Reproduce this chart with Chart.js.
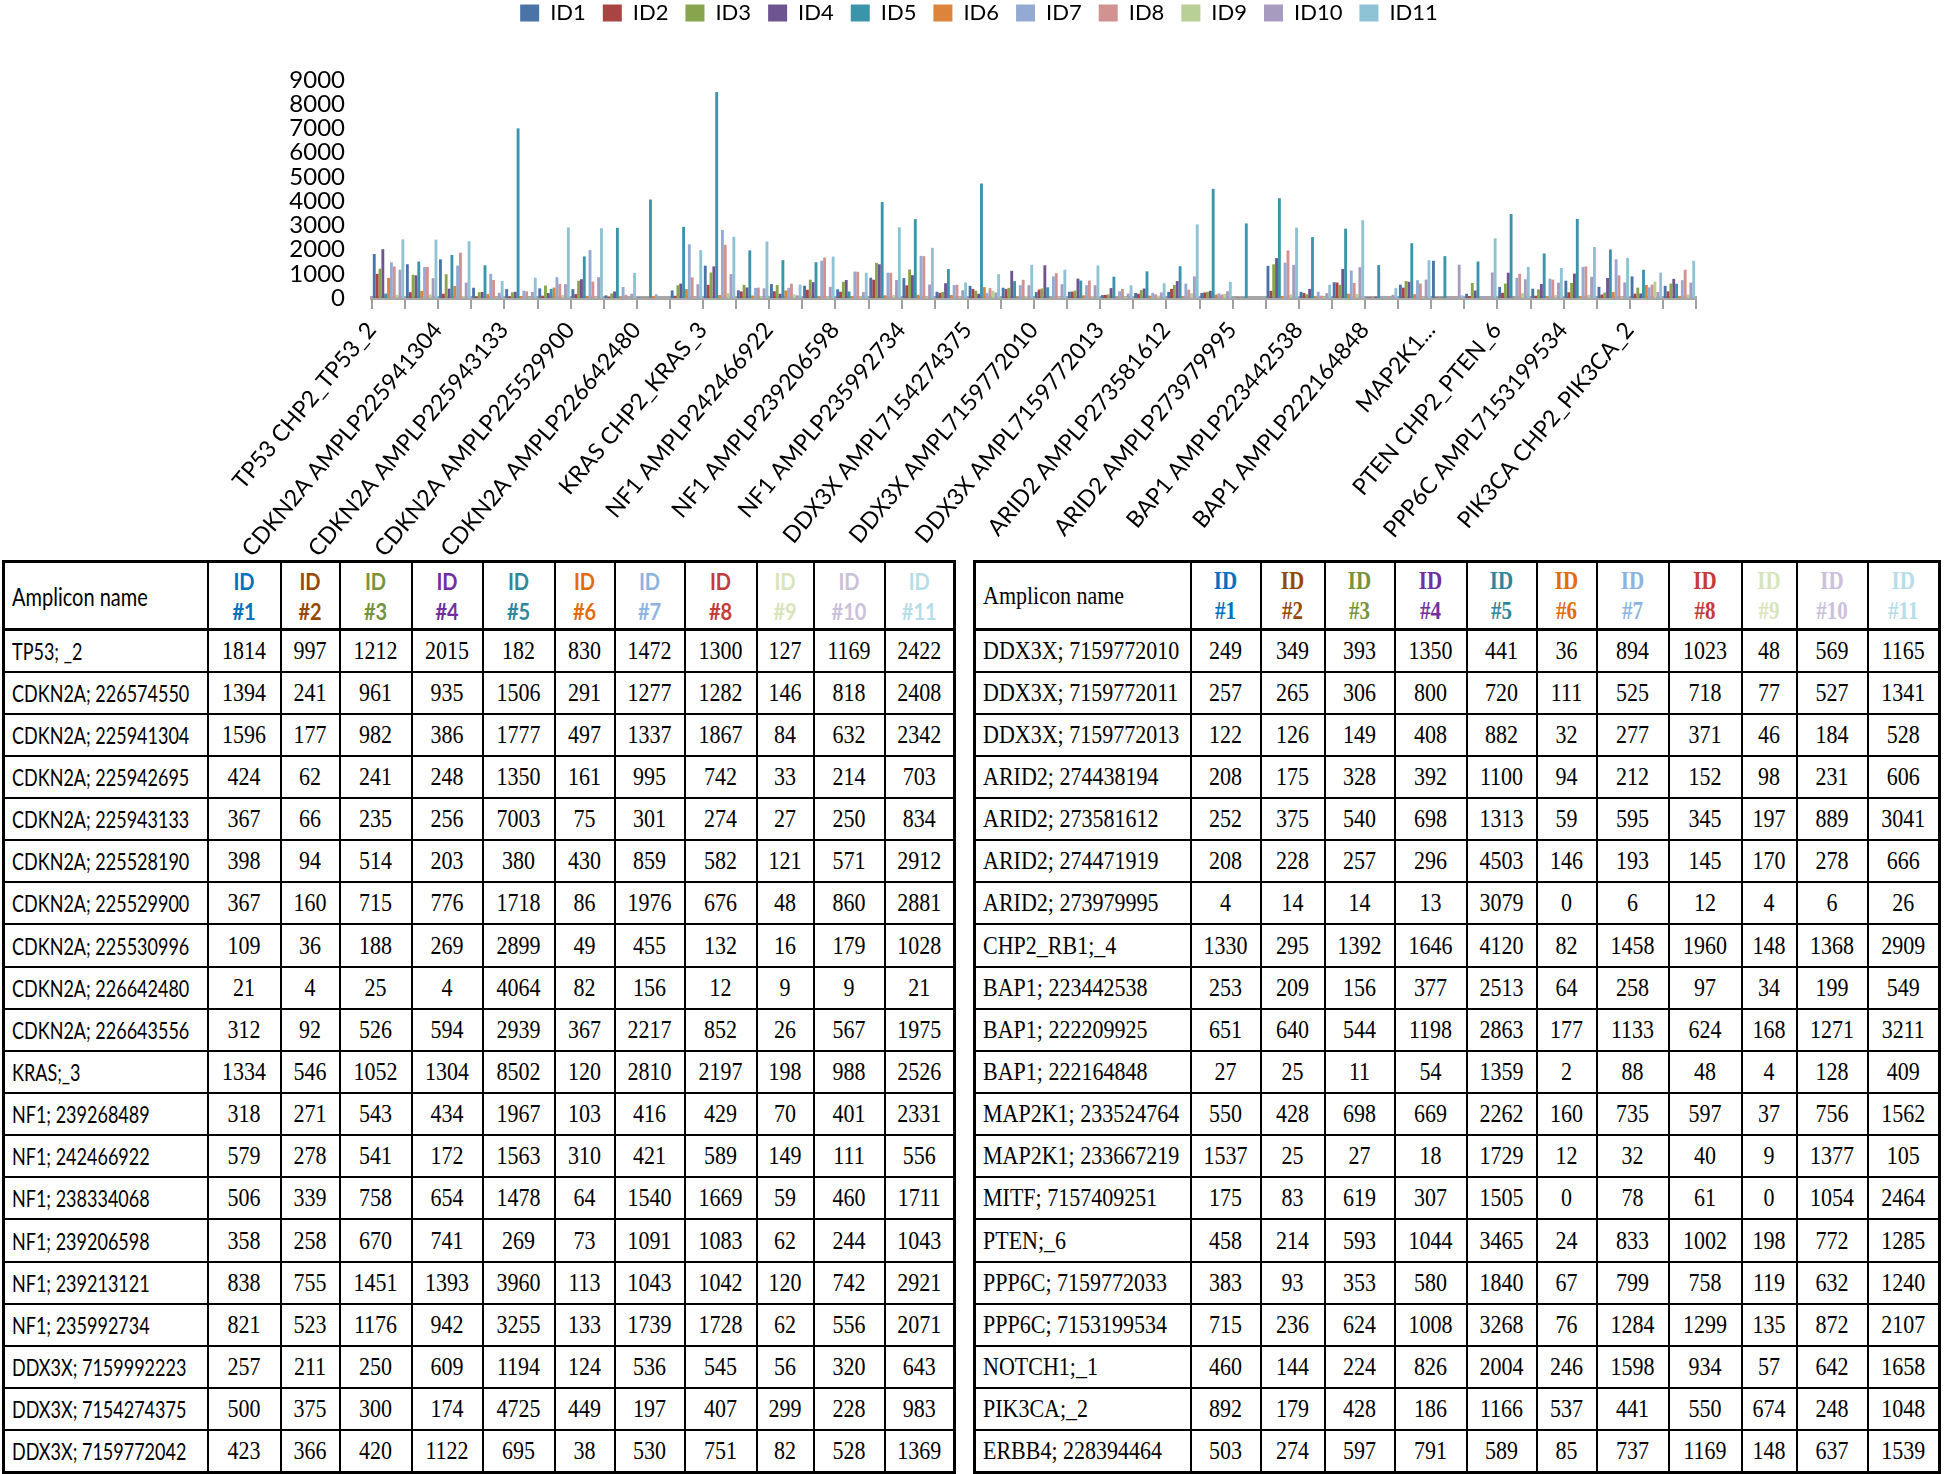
<!DOCTYPE html>
<html>
<head>
<meta charset="utf-8">
<script src="https://cdn.jsdelivr.net/npm/chart.js@4.4.1/dist/chart.umd.min.js"></script>
<style>
  html, body { margin: 0; padding: 0; background: #fff; }
  body { width: 1946px; height: 1474px; position: relative; overflow: hidden; }
  #chartBox { position: absolute; left: 0; top: 0; width: 1946px; height: 556px; }
  table.amp { position: absolute; top: 560px; border-collapse: collapse; table-layout: fixed; border: 3px solid #000; }
  table.amp td { border: 2px solid #000; padding: 0; text-align: center; vertical-align: middle; color: #000; white-space: nowrap; overflow: hidden; }
  table.amp tr.head { height: 68px; }
  table.amp tr.head td { border-bottom: 3px solid #000; }
  table.amp tr.row { height: 42.15px; }
  table.amp td.name { text-align: left; padding-left: 7px; }
  .t { display: inline-block; transform: scaleY(1.15); }
  td.name .t { transform-origin: left center; }
  #left td { font: 22px "Liberation Serif", serif; }
  #left td.name { font: 18px Lato, sans-serif; }
  #left td.name .t { transform: scaleY(1.25); }
  #left td.hid { font: bold 20px/26px Lato, sans-serif; }
  #right td { font: 22px "Liberation Serif", serif; }
  #right td.hid { font: bold 21px/26px "Liberation Serif", serif; }
</style>
</head>
<body>
<div id="chartBox"><canvas id="chart" width="1946" height="556"></canvas></div>
<table class="amp" id="left" style="left:2px"></table>
<table class="amp" id="right" style="left:973px"></table>
<script>
// series names + colours
const seriesNames = ["ID1", "ID2", "ID3", "ID4", "ID5", "ID6", "ID7", "ID8", "ID9", "ID10", "ID11"];
const barColors = ["#4a73a8", "#a94442", "#88a54e", "#6e5490", "#3a95ab", "#dd843b",
                   "#94aad2", "#d29291", "#b8cf95", "#a79bbf", "#8ec2d5"];
const headColors = ["#0070c0", "#974806", "#77933c", "#7030a0", "#31859c", "#e36c09",
                    "#8db3e2", "#c43b3b", "#d7e4bc", "#ccc0da", "#b6dde8"];

// y axis tick labels
const yTicks = [0, 1000, 2000, 3000, 4000, 5000, 6000, 7000, 8000, 9000];

// x axis categories (only every other one is printed)
const chartLabels = [
  "TP53 CHP2_TP53_2", "CDKN2A AMPLP226574550", "CDKN2A AMPLP225941304", "CDKN2A AMPLP225942695",
  "CDKN2A AMPLP225943133", "CDKN2A AMPLP225528190", "CDKN2A AMPLP225529900", "CDKN2A AMPLP225530996",
  "CDKN2A AMPLP226642480", "CDKN2A AMPLP226643556", "KRAS CHP2_KRAS_3", "NF1 AMPLP239268489",
  "NF1 AMPLP242466922", "NF1 AMPLP238334068", "NF1 AMPLP239206598", "NF1 AMPLP239213121",
  "NF1 AMPLP235992734", "DDX3X AMPL7159992223", "DDX3X AMPL7154274375", "DDX3X AMPL7159772042",
  "DDX3X AMPL7159772010", "DDX3X AMPL7159772011", "DDX3X AMPL7159772013", "ARID2 AMPLP274438194",
  "ARID2 AMPLP273581612", "ARID2 AMPLP274471919", "ARID2 AMPLP273979995", "RB1 CHP2_RB1_4",
  "BAP1 AMPLP223442538", "BAP1 AMPLP222209925", "BAP1 AMPLP222164848", "MAP2K1 AMPLP233524764",
  "MAP2K1...", "MITF AMPL7157409251", "PTEN CHP2_PTEN_6", "PPP6C AMPL7159772033",
  "PPP6C AMPL7153199534", "NOTCH1 CHP2_NOTCH1_1", "PIK3CA CHP2_PIK3CA_2", "ERBB4 AMPLP228394464"
];

// table row names (same order as chart categories)
const ampliconNames = [
  "TP53; _2", "CDKN2A; 226574550", "CDKN2A; 225941304", "CDKN2A; 225942695", "CDKN2A; 225943133",
  "CDKN2A; 225528190", "CDKN2A; 225529900", "CDKN2A; 225530996", "CDKN2A; 226642480", "CDKN2A; 226643556",
  "KRAS;_3", "NF1; 239268489", "NF1; 242466922", "NF1; 238334068", "NF1; 239206598",
  "NF1; 239213121", "NF1; 235992734", "DDX3X; 7159992223", "DDX3X; 7154274375", "DDX3X; 7159772042",
  "DDX3X; 7159772010", "DDX3X; 7159772011", "DDX3X; 7159772013", "ARID2; 274438194", "ARID2; 273581612",
  "ARID2; 274471919", "ARID2; 273979995", "CHP2_RB1;_4", "BAP1; 223442538", "BAP1; 222209925",
  "BAP1; 222164848", "MAP2K1; 233524764", "MAP2K1; 233667219", "MITF; 7157409251", "PTEN;_6",
  "PPP6C; 7159772033", "PPP6C; 7153199534", "NOTCH1;_1", "PIK3CA;_2", "ERBB4; 228394464"
];

// read counts per sample
const id1 = [1814, 1394, 1596, 424, 367, 398, 367, 109, 21, 312, 1334, 318, 579, 506, 358, 838, 821, 257, 500, 423,
             249, 257, 122, 208, 252, 208, 4, 1330, 253, 651, 27, 550, 1537, 175, 458, 383, 715, 460, 892, 503];
const id2 = [997, 241, 177, 62, 66, 94, 160, 36, 4, 92, 546, 271, 278, 339, 258, 755, 523, 211, 375, 366,
             349, 265, 126, 175, 375, 228, 14, 295, 209, 640, 25, 428, 25, 83, 214, 93, 236, 144, 179, 274];
const id3 = [1212, 961, 982, 241, 235, 514, 715, 188, 25, 526, 1052, 543, 541, 758, 670, 1451, 1176, 250, 300, 420,
             393, 306, 149, 328, 540, 257, 14, 1392, 156, 544, 11, 698, 27, 619, 593, 353, 624, 224, 428, 597];
const id4 = [2015, 935, 386, 248, 256, 203, 776, 269, 4, 594, 1304, 434, 172, 654, 741, 1393, 942, 609, 174, 1122,
             1350, 800, 408, 392, 698, 296, 13, 1646, 377, 1198, 54, 669, 18, 307, 1044, 580, 1008, 826, 186, 791];
const id5 = [182, 1506, 1777, 1350, 7003, 380, 1718, 2899, 4064, 2939, 8502, 1967, 1563, 1478, 269, 3960, 3255, 1194, 4725, 695,
             441, 720, 882, 1100, 1313, 4503, 3079, 4120, 2513, 2863, 1359, 2262, 1729, 1505, 3465, 1840, 3268, 2004, 1166, 589];
const id6 = [830, 291, 497, 161, 75, 430, 86, 49, 82, 367, 120, 103, 310, 64, 73, 113, 133, 124, 449, 38,
             36, 111, 32, 94, 59, 146, 0, 82, 64, 177, 2, 160, 12, 0, 24, 67, 76, 246, 537, 85];
const id7 = [1472, 1277, 1337, 995, 301, 859, 1976, 455, 156, 2217, 2810, 416, 421, 1540, 1091, 1043, 1739, 536, 197, 530,
             894, 525, 277, 212, 595, 193, 6, 1458, 258, 1133, 88, 735, 32, 78, 833, 799, 1284, 1598, 441, 737];
const id8 = [1300, 1282, 1867, 742, 274, 582, 676, 132, 12, 852, 2197, 429, 589, 1669, 1083, 1042, 1728, 545, 407, 751,
             1023, 718, 371, 152, 345, 145, 12, 1960, 97, 624, 48, 597, 40, 61, 1002, 758, 1299, 934, 550, 1169];
const id9 = [127, 146, 84, 33, 27, 121, 48, 16, 9, 26, 198, 70, 149, 59, 62, 120, 62, 56, 299, 82,
             48, 77, 46, 98, 197, 170, 4, 148, 34, 168, 4, 37, 9, 0, 198, 119, 135, 57, 674, 148];
const id10 = [1169, 818, 632, 214, 250, 571, 860, 179, 9, 567, 988, 401, 111, 460, 244, 742, 556, 320, 228, 528,
              569, 527, 184, 231, 889, 278, 6, 1368, 199, 1271, 128, 756, 1377, 1054, 772, 632, 872, 642, 248, 637];
const id11 = [2422, 2408, 2342, 703, 834, 2912, 2881, 1028, 21, 1975, 2526, 2331, 556, 1711, 1043, 2921, 2071, 643, 983, 1369,
              1165, 1341, 528, 606, 3041, 666, 26, 2909, 549, 3211, 409, 1562, 105, 2464, 1285, 1240, 2107, 1658, 1048, 1539];

const series = [id1, id2, id3, id4, id5, id6, id7, id8, id9, id10, id11];

// legend sits very close to the top in the original, plot starts lower
const legendSpacer = {
  id: "legendSpacer",
  afterInit(chart) {
    const fit = chart.legend.fit;
    chart.legend.fit = function () { fit.call(this); this.height = 80; };
  },
  afterLayout(chart) { chart.legend.top = -15; }
};

new Chart(document.getElementById("chart"), {
  type: "bar",
  data: {
    labels: chartLabels,
    datasets: seriesNames.map((name, i) => ({
      label: name,
      data: series[i],
      backgroundColor: barColors[i],
      borderWidth: 0,
      categoryPercentage: 0.95,
      barPercentage: 1
    }))
  },
  options: {
    responsive: false,
    animation: false,
    layout: { padding: { left: 262, right: 250, top: 0, bottom: 0 } },
    plugins: {
      tooltip: { enabled: false },
      legend: {
        position: "top",
        labels: {
          boxWidth: 19, boxHeight: 17, padding: 17, color: "#000",
          font: { family: "Lato", size: 22 }
        }
      }
    },
    scales: {
      x: {
        afterFit: (scale) => { scale.height = 258; },
        grid: { display: true, drawOnChartArea: false, drawTicks: true, tickLength: 11, color: "#a0a0a0", lineWidth: 2 },
        border: { display: true, color: "#a6a6a6", width: 4 },
        ticks: {
          autoSkip: false, minRotation: 50, maxRotation: 50, padding: 8, labelOffset: -17,
          color: "#000", font: { family: "Lato", size: 23 },
          callback: (value, index) => (index % 2 === 0 ? chartLabels[index] : "")
        }
      },
      y: {
        min: 0, max: 9000,
        afterFit: (scale) => { scale.width = 110; },
        afterBuildTicks: (scale) => { scale.ticks = yTicks.map(v => ({ value: v })); },
        grid: { display: false, drawTicks: false },
        border: { display: false },
        ticks: {
          autoSkip: false, padding: 27, color: "#000", font: { family: "Lato", size: 24 },
          callback: (value) => String(value)
        }
      }
    }
  },
  plugins: [legendSpacer]
});

// ---- tables under the chart ----
const leftCols = [204, 73, 59, 72, 71, 72, 60, 70, 72, 57, 71, 70];
const rightCols = [216, 70, 64, 70, 72, 70, 60, 72, 73, 55, 71, 72];

function buildTable(el, cols, from, to) {
  let html = "<colgroup>" + cols.map(w => '<col style="width:' + w + 'px">').join("") + "</colgroup>";
  html += '<tr class="head"><td class="name"><span class="t">Amplicon name</span></td>';
  for (let i = 0; i < seriesNames.length; i++) {
    html += '<td class="hid" style="color:' + headColors[i] + '"><span class="t">ID<br>#' + (i + 1) + "</span></td>";
  }
  html += "</tr>";
  for (let r = from; r < to; r++) {
    html += '<tr class="row"><td class="name"><span class="t">' + ampliconNames[r] + "</span></td>";
    for (let i = 0; i < series.length; i++) {
      html += '<td><span class="t">' + series[i][r] + "</span></td>";
    }
    html += "</tr>";
  }
  el.style.width = cols.reduce((a, b) => a + b, 0) + "px";
  el.innerHTML = html;
}

buildTable(document.getElementById("left"), leftCols, 0, 20);
buildTable(document.getElementById("right"), rightCols, 20, 40);
document.querySelector("#left tr.head td.name").style.font = "20px Lato, sans-serif";
</script>
</body>
</html>
